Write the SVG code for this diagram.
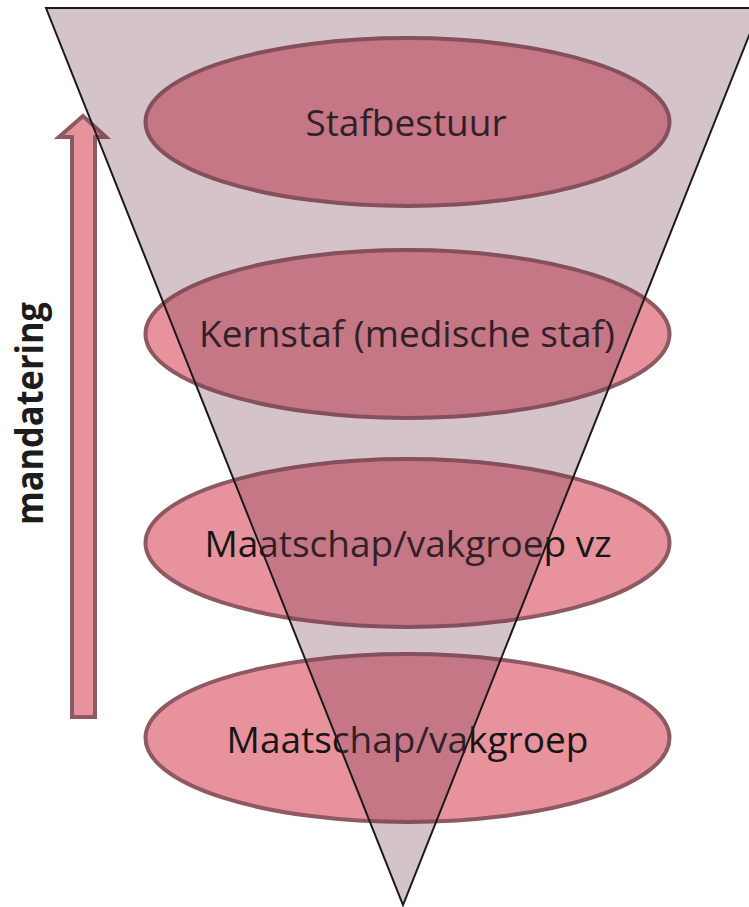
<svg xmlns="http://www.w3.org/2000/svg" width="749" height="907" viewBox="0 0 749 907">
  <style>
    .level { fill: #E8929E; stroke: #8E5962; stroke-width: 4; }
    .label { font-family: "Open Sans", "Liberation Sans", sans-serif; font-size: 37px; fill: #161616; text-anchor: middle; }
    .side { font-family: "Open Sans", "Liberation Sans", sans-serif; font-size: 38px; font-weight: bold; fill: #1c1c1c; text-anchor: middle; }
    .funnel { fill: rgb(115,55,78); fill-opacity: 0.3; stroke: #1a1a1a; stroke-width: 2; stroke-linejoin: miter; }
    .mandate { fill: #E8929E; stroke: #8E5962; stroke-width: 4; }
  </style>

  <!-- upward mandate arrow -->
  <g id="mandate-arrow">
    <polygon class="mandate" points="83,116 106,137 95,137 95,717 72,717 72,137 59,137"/>
  </g>
  <text class="side" transform="translate(43,413.5) rotate(-90)" textLength="223" lengthAdjust="spacingAndGlyphs">mandatering</text>

  <!-- organisation levels -->
  <g id="stafbestuur">
    <ellipse class="level" cx="407.5" cy="122" rx="262" ry="84"/>
    <text class="label" x="406" y="136">Stafbestuur</text>
  </g>
  <g id="kernstaf">
    <ellipse class="level" cx="407.5" cy="334" rx="262" ry="84"/>
    <text class="label" x="407" y="347">Kernstaf (medische staf)</text>
  </g>
  <g id="maatschap-vz">
    <ellipse class="level" cx="407.5" cy="543" rx="262" ry="84"/>
    <text class="label" x="408" y="557">Maatschap/vakgroep vz</text>
  </g>
  <g id="maatschap">
    <ellipse class="level" cx="407.5" cy="738" rx="262" ry="84"/>
    <text class="label" x="407.5" y="753">Maatschap/vakgroep</text>
  </g>

  <!-- translucent funnel laid over everything -->
  <g id="funnel">
    <polygon class="funnel" points="46,8 760,8 403,905"/>
  </g>
</svg>
